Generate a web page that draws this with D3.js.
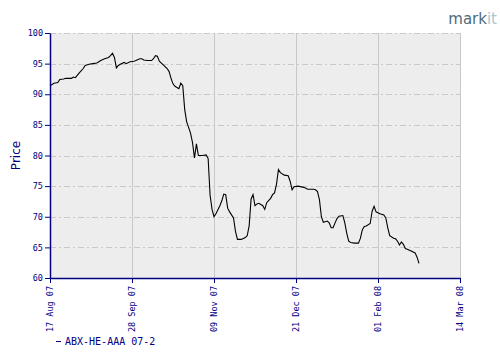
<!DOCTYPE html>
<html>
<head>
<meta charset="utf-8">
<script src="https://cdn.jsdelivr.net/npm/d3@7"></script>
<style>
  body { margin: 0; background: #fff; }
  svg { display: block; }
</style>
</head>
<body>
<div id="chart-area"></div>
<script>
const MARGIN = { LEFT: 50, RIGHT: 40, TOP: 33, BOTTOM: 82 }
const WIDTH = 500 - MARGIN.LEFT - MARGIN.RIGHT
const HEIGHT = 360 - MARGIN.TOP - MARGIN.BOTTOM

const NAVY = "#000080"

// data
const dates = [
  "2007-08-17","2007-08-19","2007-08-21","2007-08-22","2007-08-24","2007-08-25","2007-08-28","2007-08-29","2007-08-30",
  "2007-09-01","2007-09-03","2007-09-04","2007-09-06","2007-09-08","2007-09-10","2007-09-12","2007-09-14","2007-09-16",
  "2007-09-17","2007-09-18","2007-09-19","2007-09-20","2007-09-21","2007-09-22","2007-09-24","2007-09-25","2007-09-27",
  "2007-09-29","2007-09-30",
  "2007-10-02","2007-10-03","2007-10-04","2007-10-06","2007-10-08","2007-10-09","2007-10-10","2007-10-11","2007-10-12",
  "2007-10-14","2007-10-16","2007-10-17","2007-10-18","2007-10-19","2007-10-20","2007-10-22","2007-10-23","2007-10-24",
  "2007-10-25","2007-10-26","2007-10-27","2007-10-28","2007-10-29","2007-10-30","2007-10-31",
  "2007-11-01","2007-11-03","2007-11-05","2007-11-06","2007-11-07","2007-11-08","2007-11-09","2007-11-10","2007-11-12",
  "2007-11-13","2007-11-14","2007-11-15","2007-11-16","2007-11-17","2007-11-19","2007-11-20","2007-11-21","2007-11-23",
  "2007-11-25","2007-11-26","2007-11-27","2007-11-28","2007-11-29","2007-11-30",
  "2007-12-01","2007-12-02","2007-12-04","2007-12-05","2007-12-06","2007-12-08","2007-12-09","2007-12-10","2007-12-11",
  "2007-12-12","2007-12-13","2007-12-15","2007-12-17","2007-12-18","2007-12-19","2007-12-20","2007-12-22","2007-12-25",
  "2007-12-27","2007-12-30","2007-12-31",
  "2008-01-01","2008-01-02","2008-01-03","2008-01-04","2008-01-06","2008-01-07","2008-01-08","2008-01-09","2008-01-10",
  "2008-01-11","2008-01-12","2008-01-14","2008-01-15","2008-01-16","2008-01-17","2008-01-18","2008-01-20","2008-01-22",
  "2008-01-23","2008-01-24","2008-01-25","2008-01-26","2008-01-28","2008-01-29","2008-01-30","2008-01-31",
  "2008-02-02","2008-02-04","2008-02-05","2008-02-06","2008-02-07","2008-02-09","2008-02-10","2008-02-11","2008-02-12",
  "2008-02-13","2008-02-14","2008-02-15","2008-02-16","2008-02-18","2008-02-20","2008-02-21","2008-02-22"
]
const prices = [
  91.4, 91.8, 91.9, 92.4, 92.5, 92.6, 92.6, 92.8, 92.7,
  93.5, 94.2, 94.7, 94.9, 95.0, 95.1, 95.5, 95.8, 96.0,
  96.3, 96.7, 96.0, 94.3, 94.7, 94.9, 95.2, 95.0, 95.3,
  95.4, 95.5,
  95.8, 95.8, 95.6, 95.5, 95.5, 95.8, 96.3, 96.2, 95.4,
  94.8, 94.2, 93.7, 92.6, 91.7, 91.3, 90.9, 91.8, 91.4,
  87.5, 85.5, 84.6, 83.6, 82.1, 79.6, 81.9,
  80.0, 80.0, 80.1, 79.5, 73.5, 71.2, 70.0, 70.5, 71.8,
  72.6, 73.7, 73.6, 71.4, 70.8, 69.8, 67.6, 66.3, 66.3,
  66.6, 66.9, 68.5, 72.9, 73.6, 71.8,
  72.1, 72.2, 71.8, 71.2, 72.3, 73.0, 73.6, 73.9, 75.3,
  77.7, 77.2, 76.8, 76.7, 75.8, 74.4, 74.9, 75.0, 74.8,
  74.5, 74.5, 74.4,
  74.1, 72.8, 70.0, 69.1, 69.3, 69.0, 68.2, 68.2, 69.0,
  69.7, 70.1, 70.2, 69.0, 67.3, 66.0, 65.8, 65.7, 65.7,
  66.5, 67.9, 68.4, 68.5, 68.9, 70.9, 71.7, 70.8,
  70.5, 70.3, 69.8, 68.2, 66.9, 66.5, 66.4, 66.0, 65.4,
  65.9, 65.5, 64.8, 64.7, 64.4, 64.1, 63.4, 62.4
]
const xTickDates = ["2007-08-17", "2007-09-28", "2007-11-09", "2007-12-21", "2008-02-01", "2008-03-14"]
const yTicks = [60, 65, 70, 75, 80, 85, 90, 95, 100]
const seriesName = "ABX-HE-AAA 07-2"

const parseDate = d3.utcParse("%Y-%m-%d")
const fmtDate = d3.utcFormat("%d %b %y")

const series = dates.map((d, i) => ({ date: parseDate(d), price: prices[i] }))

const svg = d3.select("#chart-area")
  .append("svg")
  .attr("width", 500)
  .attr("height", 360)

// logo
const logo = svg.append("text")
  .attr("x", 497)
  .attr("y", 24)
  .attr("text-anchor", "end")
  .style("font-family", "'DejaVu Sans', sans-serif")
  .style("font-size", "15px")
logo.append("tspan").attr("fill", "#4d6b78").text("mark")
logo.append("tspan").attr("fill", "#aac6cf").text("it")

const chart = svg.append("g")
  .attr("transform", `translate(${MARGIN.LEFT}, ${MARGIN.TOP})`)

const x = d3.scaleUtc()
  .domain([parseDate(xTickDates[0]), parseDate(xTickDates[xTickDates.length - 1])])
  .range([0, WIDTH])

const y = d3.scaleLinear()
  .domain([60, 100])
  .range([HEIGHT, 0])

chart.append("rect")
  .attr("width", WIDTH)
  .attr("height", HEIGHT)
  .attr("fill", "#ededed")

// horizontal grid (dash-dot)
chart.selectAll(".hgrid")
  .data(yTicks.filter(t => t > 60))
  .enter()
  .append("line")
  .attr("class", "hgrid")
  .attr("x1", 0)
  .attr("x2", WIDTH)
  .attr("y1", d => Math.round(y(d)) + 0.5)
  .attr("y2", d => Math.round(y(d)) + 0.5)
  .attr("stroke", "#c8c8c8")
  .attr("stroke-dasharray", "6,3,2,3")

// vertical grid (solid)
chart.selectAll(".vgrid")
  .data(xTickDates.slice(1))
  .enter()
  .append("line")
  .attr("class", "vgrid")
  .attr("x1", d => Math.round(x(parseDate(d))) + 0.5)
  .attr("x2", d => Math.round(x(parseDate(d))) + 0.5)
  .attr("y1", 0)
  .attr("y2", HEIGHT)
  .attr("stroke", "#c8c8c8")

const line = d3.line()
  .x(d => x(d.date))
  .y(d => y(d.price))

chart.append("path")
  .datum(series)
  .attr("fill", "none")
  .attr("stroke", "#000")
  .attr("stroke-width", 1.1)
  .attr("d", line)

const xAxis = d3.axisBottom(x)
  .tickValues(xTickDates.map(parseDate))
  .tickFormat(fmtDate)
  .tickSize(5)
  .tickSizeOuter(0)

const yAxis = d3.axisLeft(y)
  .tickValues(yTicks)
  .tickSize(5)
  .tickSizeOuter(0)

const xAxisGroup = chart.append("g")
  .attr("transform", `translate(0, ${HEIGHT})`)
  .call(xAxis)

xAxisGroup.selectAll("text")
  .attr("transform", "rotate(-90)")
  .attr("x", -8)
  .attr("y", 0)
  .attr("dy", "0.32em")
  .style("text-anchor", "end")

const yAxisGroup = chart.append("g")
  .call(yAxis)

yAxisGroup.selectAll("text").attr("x", -7)

chart.selectAll(".domain, .tick line")
  .attr("stroke", NAVY)
chart.selectAll(".domain").attr("stroke-width", 1.5)
chart.selectAll(".tick text")
  .attr("fill", NAVY)
  .style("font-family", "'DejaVu Sans Mono', monospace")
  .style("font-size", "8.5px")

// axis title
svg.append("text")
  .attr("transform", "rotate(-90)")
  .attr("x", -(MARGIN.TOP + HEIGHT / 2))
  .attr("y", 20)
  .attr("text-anchor", "middle")
  .attr("fill", NAVY)
  .style("font-family", "'DejaVu Sans', sans-serif")
  .style("font-size", "12px")
  .text("Price")

// legend
svg.append("line")
  .attr("x1", 56)
  .attr("x2", 61)
  .attr("y1", 341.5)
  .attr("y2", 341.5)
  .attr("stroke", NAVY)

svg.append("text")
  .attr("x", 65)
  .attr("y", 345)
  .attr("fill", NAVY)
  .style("font-family", "'DejaVu Sans Mono', monospace")
  .style("font-size", "10px")
  .text("ABX-HE-AAA 07-2")
</script>
</body>
</html>
